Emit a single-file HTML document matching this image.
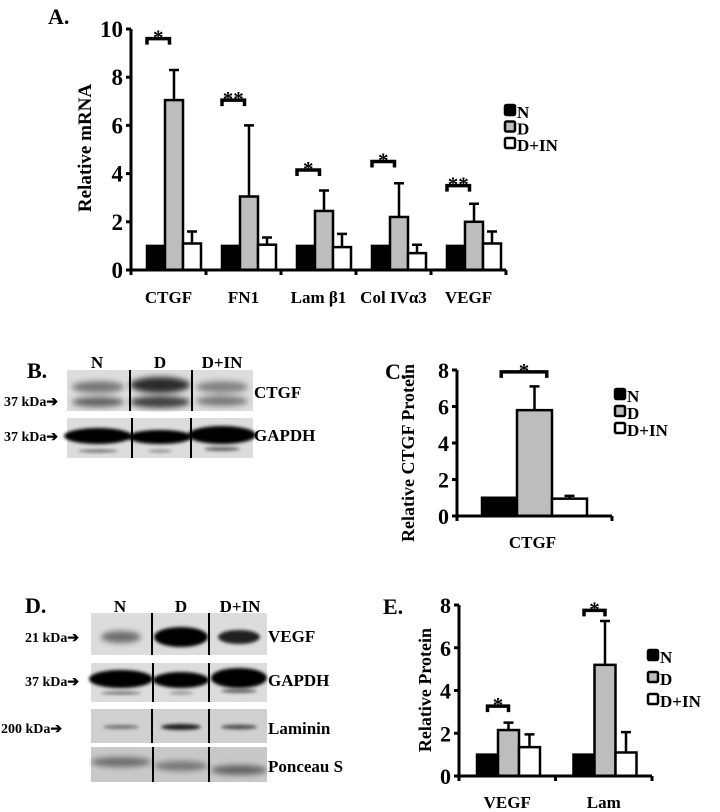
<!DOCTYPE html>
<html><head><meta charset="utf-8"><style>
body{margin:0;background:#fff;width:720px;height:812px;overflow:hidden}
svg{display:block}
text{font-family:"Liberation Serif",serif;font-weight:bold;fill:#000}
</style></head><body>
<svg id="fig" width="720" height="812" viewBox="0 0 720 812">
<defs>
<filter id="bl" x="-50%" y="-100%" width="200%" height="300%"><feGaussianBlur stdDeviation="3"/></filter>
<filter id="bl2" x="-50%" y="-100%" width="200%" height="300%"><feGaussianBlur stdDeviation="1.5"/></filter>
</defs>
<g id="blots"></g>
<g id="charts"></g>
</svg>
<script>
// ---- Panel A data ----
const aCategories = ["CTGF","FN1","Lam β1","Col IVα3","VEGF"];
const aN = [1,1,1,1,1];
const aD = [7.05,3.05,2.45,2.2,2.0];
const aDIN = [1.1,1.05,0.95,0.7,1.1];
const aDErr = [1.25,2.95,0.85,1.4,0.75];
const aDINErr = [0.5,0.3,0.55,0.35,0.5];
const aSig = ["*","**","*","*","**"];
const aSigY = [9.6,7.05,4.15,4.5,3.5];
const aTicks = [0,2,4,6,8,10];
// ---- Panel C data ----
const cCategories = ["CTGF"];
const cN = [1];
const cD = [5.8];
const cDIN = [0.95];
const cDErr = [1.3];
const cDINErr = [0.15];
const cSig = ["*"];
const cSigY = [7.9];
const cTicks = [0,2,4,6,8];
// ---- Panel E data ----
const eCategories = ["VEGF","Lam"];
const eN = [1,1];
const eD = [2.15,5.2];
const eDIN = [1.35,1.1];
const eDErr = [0.35,2.05];
const eDINErr = [0.6,0.95];
const eSig = ["*","*"];
const eSigY = [3.27,7.75];
const eTicks = [0,2,4,6,8];
const legendLabels = ["N","D","D+IN"];

const NS="http://www.w3.org/2000/svg";
function mk(tag,attrs,parent){const e=document.createElementNS(NS,tag);for(const k in attrs)e.setAttribute(k,attrs[k]);parent.appendChild(e);return e;}
function txt(s,attrs,parent){const e=mk("text",attrs,parent);e.textContent=s;return e;}

function chart(cfg){
  const g=mk("g",{},document.getElementById("charts"));
  
  
  const y=v=>cfg.y0-(v-cfg.min)/(cfg.max-cfg.min)*(cfg.y0-cfg.yTop);
  const nc=cfg.cats.length, gw=(cfg.xEnd-cfg.x0)/nc;
  const x=(i,j)=>cfg.x0+i*gw+cfg.pad+j*cfg.bw;
  const series=[cfg.n,cfg.d,cfg.din], fills=["#000","#bdbdbd","#fff"], sn=["n","d","d-in"];
  for(let i=0;i<nc;i++){
    for(let j=0;j<3;j++){
      const v=series[j][i];
      const r=mk("rect",{x:x(i,j),y:y(v),width:cfg.bw,height:y(0)-y(v),fill:fills[j],stroke:"#000","stroke-width":cfg.sw},g);
      
      
    }
    [[1,cfg.d,cfg.dErr],[2,cfg.din,cfg.dinErr]].forEach(([j,s,e])=>{
      const cx=x(i,j)+cfg.bw/2, top=y(s[i]+e[i]);
      const eb=mk("path",{d:`M${cx} ${y(s[i])}V${top}M${cx-5} ${top}H${cx+5}`,stroke:"#000","stroke-width":2.5,fill:"none"},g);
      
      
    });
    const bx1=x(i,0)+cfg.bw*cfg.bs, bx2=x(i,1)+cfg.bw*cfg.be, by=y(cfg.sigY[i]);
    const br=mk("path",{d:`M${bx1} ${by+6}V${by}H${bx2}V${by+6}`,stroke:"#000","stroke-width":3.5,fill:"none"},g);
    
    
    const st=txt(cfg.sig[i],{x:(bx1+bx2)/2,y:by+6,"text-anchor":"middle","font-size":cfg.fs+6},g);
    
    
    const cl=txt(cfg.cats[i],{x:cfg.x0+i*gw+gw/2+(cfg.labelDx||0),y:cfg.labelY,"text-anchor":"middle","font-size":cfg.lfs},g);
    
    
  }
  const ax=mk("path",{d:`M${cfg.x0} ${cfg.yTop}V${cfg.y0}H${cfg.xEnd}`,stroke:"#000","stroke-width":3,fill:"none"},g);
  
  
  for(let i=0;i<=nc;i++){const t=mk("line",{x1:cfg.x0+i*gw,x2:cfg.x0+i*gw,y1:cfg.y0,y2:cfg.y0+5,stroke:"#000","stroke-width":3},g);
    
    }
  cfg.ticks.forEach(v=>{
    const t=mk("line",{x1:cfg.x0-5,x2:cfg.x0,y1:y(v),y2:y(v),stroke:"#000","stroke-width":3},g);
    
    
    const l=txt(String(v),{x:cfg.x0-8,y:y(v)+8,"text-anchor":"end","font-size":cfg.tfs},g);
    
    
  });
  const tt=txt(cfg.title,{x:cfg.titleX,y:cfg.titleY,"text-anchor":"middle","font-size":cfg.ttfs,transform:`rotate(-90 ${cfg.titleX} ${cfg.titleY})`},g);
  
  
  const pl=txt(cfg.panel,{x:cfg.panelX,y:cfg.panelY,"font-size":22},g);
  
  
  legendLabels.forEach((s,j)=>{
    const ly=cfg.legY+j*cfg.legDy;
    const b=mk("rect",{x:cfg.legX,y:ly-11,width:10,height:10,fill:fills[j],stroke:"#000","stroke-width":2.5,rx:1.5},g);
    
    
    const l=txt(s,{x:cfg.legX+12,y:ly+2,"font-size":cfg.legFs},g);
    
    
  });
}

chart({name:"chart-a-mrna",cats:aCategories,n:aN,d:aD,din:aDIN,dErr:aDErr,dinErr:aDINErr,sig:aSig,sigY:aSigY,ticks:aTicks,
  min:0,max:10,x0:131,xEnd:506,y0:270,yTop:29,pad:16,bw:18,sw:2.5,bs:0,be:0.25,fs:15,tfs:23,lfs:17,ttfs:19,labelY:303,
  title:"Relative  mRNA",titleX:91,titleY:148,panel:"A.",panelX:48,panelY:24,legX:505,legY:116,legDy:16.5,legFs:17});
chart({name:"chart-c-ctgf-protein",cats:cCategories,n:cN,d:cD,din:cDIN,dErr:cDErr,dinErr:cDINErr,sig:cSig,sigY:cSigY,ticks:cTicks,
  min:0,max:8,x0:457,xEnd:612,y0:516,yTop:370,pad:25,bw:35,sw:2.5,bs:0.55,be:0.85,fs:15,tfs:22,lfs:17,ttfs:18,labelY:548,labelDx:-2,
  title:"Relative CTGF Protein",titleX:414,titleY:453,panel:"C.",panelX:385,panelY:379,legX:615,legY:400,legDy:17,legFs:17});
chart({name:"chart-e-protein",cats:eCategories,n:eN,d:eD,din:eDIN,dErr:eDErr,dinErr:eDINErr,sig:eSig,sigY:eSigY,ticks:eTicks,
  min:0,max:8,x0:459,xEnd:652,y0:776,yTop:605,pad:18,bw:21,sw:2.5,bs:0.5,be:0.5,fs:15,tfs:22,lfs:17,ttfs:18,labelY:808,
  title:"Relative Protein",titleX:431,titleY:690,panel:"E.",panelX:383,panelY:614,legX:648,legY:661,legDy:22,legFs:17});

const B=document.getElementById("blots");
function blot(name,x1,x2,y1,y2,divs,bands,bg){
  const g=mk("g",{},B);
  
  
  mk("rect",{x:x1,y:y1,width:x2-x1,height:y2-y1,fill:bg||"#dcdcdc"},g);
  bands.forEach(b=>mk("ellipse",{cx:b[0],cy:b[1],rx:b[2],ry:b[3],fill:"#000",opacity:b[4],filter:b[5]?"url(#bl2)":"url(#bl)"},g));
  divs.forEach(d=>mk("line",{x1:d,x2:d,y1:y1,y2:y2,stroke:"#000","stroke-width":2},g));
}
function lbl(s,x,y,fs,anchor,name){const t=txt(s,{x:x,y:y,"font-size":fs,"text-anchor":anchor||"start"},B);
  
  }
blot("ctgf-blot-b",67,253,370,411,[130,192],[[98,387,26,6,0.45],[98,402,26,5,0.55],[160,385,30,8,0.8],[160,402,30,6,0.7],[222,387,26,6,0.4],[222,401,26,5,0.45]]);
blot("gapdh-blot-b",67,253,418,458,[132,191],[[98,436,34,8,1,1],[160,437,32,7,1,1],[222,435,34,9,1,1],[98,451,20,1.5,0.5,1],[160,451,12,1.5,0.35,1],[222,449,18,2,0.55,1]]);
lbl("B.",27,378,22,"start","panel-label");
lbl("N",97,368,17,"middle","lane-label-n");lbl("D",160,368,17,"middle","lane-label-d");lbl("D+IN",222,368,17,"middle","lane-label-d-in");
lbl("CTGF",254,398,17,"start","band-label-ctgf");lbl("GAPDH",254,441,17,"start","band-label-gapdh");
lbl("37 kDa➔",4,406,14,"start","marker-37kda");lbl("37 kDa➔",4,441,14,"start","marker-37kda");
blot("vegf-blot-d",91,267,613,655,[152,209],[[121,637,20,6,0.5],[181,637,27,10,1,1],[239,637,21,7,0.85,1]]);
blot("gapdh-blot-d",91,267,663,702,[153,209],[[121,679,32,9,1,1],[181,680,28,8,1,1],[239,678,28,10,1,1],[121,693,20,1.5,0.5,1],[181,693,12,1.5,0.35,1],[239,691,18,2,0.55,1]]);
blot("laminin-blot-d",91,267,709,743,[152,209],[[121,727,18,2,0.45,1],[181,727,20,3,0.85,1],[239,727,18,2.5,0.6,1]],"#d0d0d0");
blot("ponceau-blot-d",91,267,747,782,[153,209],[[121,762,30,5,0.45],[181,766,27,5,0.4],[239,770,28,5,0.5]],"#c8c8c8");
lbl("D.",25,613,22,"start","panel-label");
lbl("N",120,612,17,"middle","lane-label-n");lbl("D",181,612,17,"middle","lane-label-d");lbl("D+IN",240,612,17,"middle","lane-label-d-in");
lbl("VEGF",268,642,17,"start","band-label-vegf");lbl("GAPDH",268,686,17,"start","band-label-gapdh");
lbl("Laminin",268,734,17,"start","band-label-laminin");lbl("Ponceau S",268,772,17,"start","band-label-ponceau");
lbl("21 kDa➔",25,642,14,"start","marker-21kda");lbl("37 kDa➔",25,686,14,"start","marker-37kda");lbl("200 kDa➔",1,733,14,"start","marker-200kda");
</script>
</body></html>
